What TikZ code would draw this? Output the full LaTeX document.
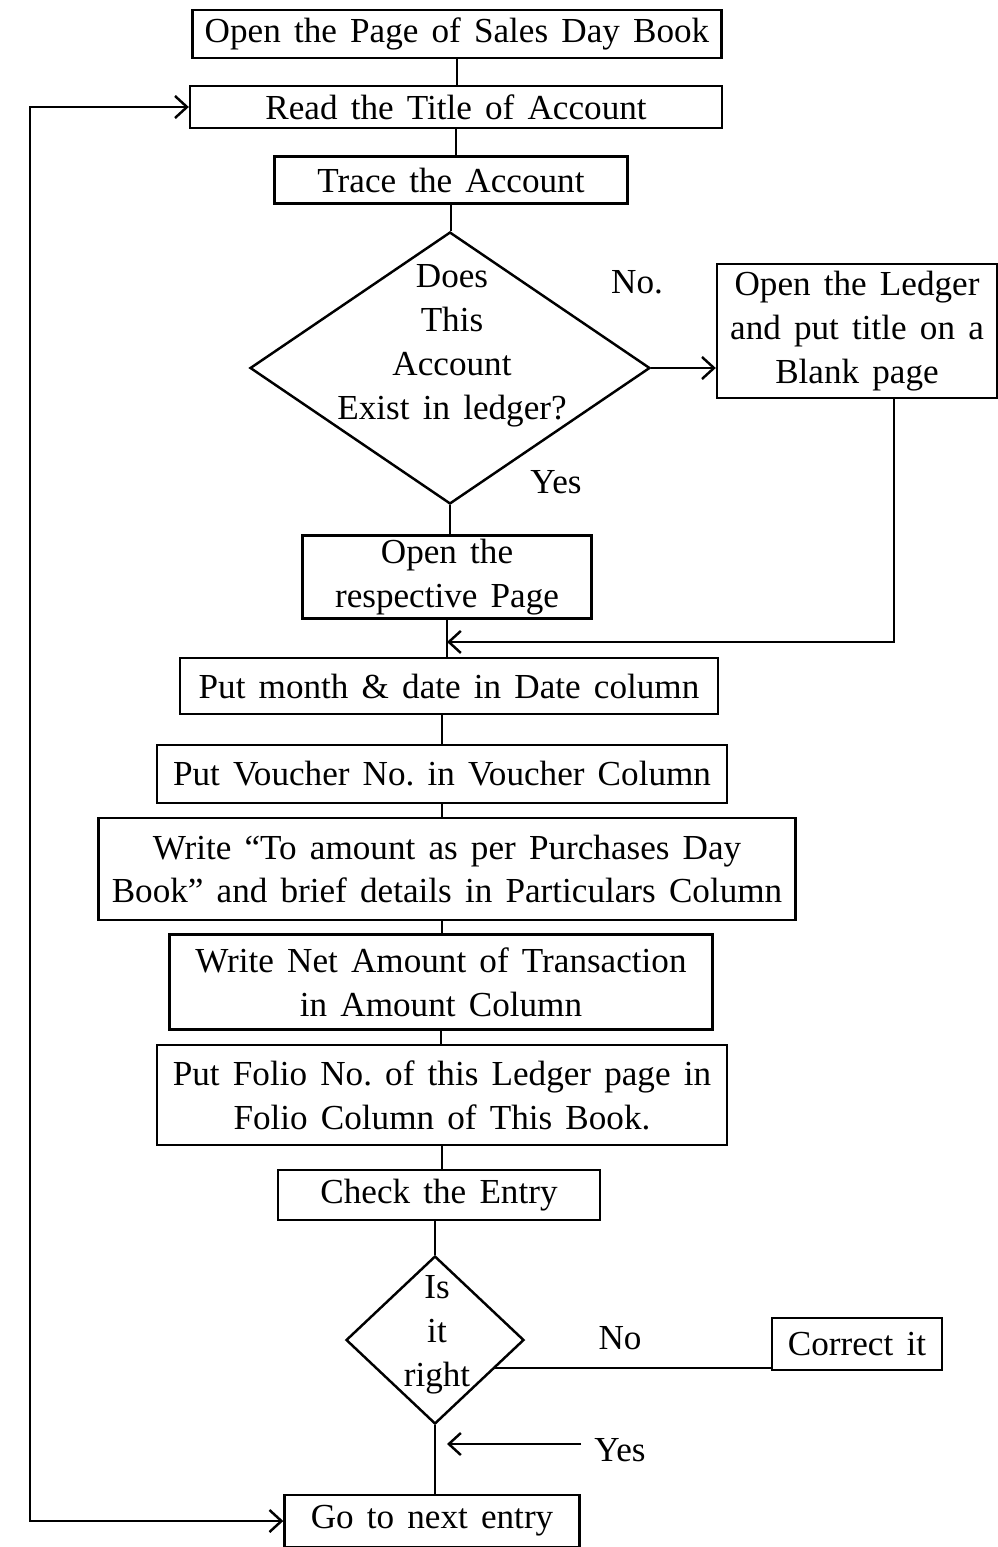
\documentclass[tikz,border=0pt]{standalone}
\usepackage{fontspec}
\setmainfont{Liberation Serif}[WordSpace=1.5]
\usetikzlibrary{arrows.meta,shapes.geometric,calc}

\begin{document}
\begin{tikzpicture}[
  x=0.02cm, y=0.02cm,
  font=\fontsize{20}{25}\selectfont,
  >={Straight Barb[length=2.4mm,width=4.4mm]},
  stepbox/.style={
    draw,
    line width=1.4pt,
    inner sep=0pt,
    align=center
  },
  decision/.style={
    draw,
    diamond,
    line width=1.4pt,
    inner sep=0pt
  },
  flowline/.style={
    line width=1.4pt
  },
  flowarrow/.style={
    ->,
    line width=1.4pt
  }
]
  \path[use as bounding box] (0,0) rectangle (997,-1547);

  % ----------------------------------------------------
  % UPPER PART: FIND THE ACCOUNT
  % ----------------------------------------------------
  \node[stepbox, minimum width=10.58cm, minimum height=0.96cm] (open) at (457,-34) {Open the Page of Sales Day Book};
  \node[stepbox, minimum width=10.64cm, minimum height=0.84cm] (title) at (456,-107) {Read the Title of Account};
  \node[stepbox, minimum width=7.06cm, minimum height=0.94cm] (trace) at (451,-180) {Trace the Account};

  % Decision: does the account exist?
  \node[decision, minimum width=8cm, minimum height=5.44cm] (exist) at (450,-368) {};
  \node[align=center] (existtext) at (452,-346) {Does\\This\\Account\\Exist in ledger?};
  \node (nolbl) at (637,-282) {No.};
  \node (yeslbl) at (556,-482) {Yes};

  \node[stepbox, minimum width=5.6cm, minimum height=2.68cm] (ledger) at (857,-331) {Open the Ledger\\and put title on a\\Blank page};
  \node[stepbox, minimum width=5.78cm, minimum height=1.66cm] (respective) at (447,-577) {Open the\\respective Page};

  % ----------------------------------------------------
  % POSTING STEPS
  % ----------------------------------------------------
  \node[stepbox, minimum width=10.76cm, minimum height=1.12cm] (date) at (449,-686) {Put month \& date in Date column};
  \node[stepbox, minimum width=11.4cm, minimum height=1.16cm] (voucher) at (442,-774) {Put Voucher No.\ in Voucher Column};
  \node[stepbox, minimum width=13.94cm, minimum height=2.04cm] (partic) at (447,-869) {Write “To amount as per Purchases Day\\Book” and brief details in Particulars Column};
  \node[stepbox, minimum width=10.86cm, minimum height=1.9cm] (netamt) at (441,-982) {Write Net Amount of Transaction\\in Amount Column};
  \node[stepbox, minimum width=11.4cm, minimum height=2.0cm] (folio) at (442,-1095) {Put Folio No.\ of this Ledger page in\\Folio Column of This Book.};
  \node[stepbox, minimum width=6.44cm, minimum height=1.0cm] (check) at (439,-1195) {Check the Entry};

  % Decision: is it right?
  \node[decision, minimum width=3.56cm, minimum height=3.36cm] (right) at (435,-1340) {};
  \node[align=center] (righttext) at (437,-1335) {Is\\it\\right};
  \node (no2lbl) at (620,-1338) {No};
  \node (yes2lbl) at (620,-1450) {Yes};
  \node[stepbox, minimum width=3.4cm, minimum height=1.04cm] (correct) at (857,-1344) {Correct it};
  \node[stepbox, minimum width=5.9cm, minimum height=1.04cm] (nextentry) at (432,-1521) {Go to next entry};

  \coordinate (loopx) at (30,0);
  \coordinate (yestip) at (447,-1444);
  \coordinate (merge) at ($(respective.south)!0.6!(respective.south |- date.north)$);

  % ----------------------------------------------------
  % CONNECTORS
  % ----------------------------------------------------
  \draw[flowline] (open.south) -- (open.south |- title.north);
  \draw[flowline] (title.south) -- (title.south |- trace.north);
  \draw[flowline] (trace.south) -- (trace.south |- exist.north);
  \draw[flowarrow] (exist.east) -- (exist.east -| ledger.west);
  \draw[flowline] (exist.south) -- (exist.south |- respective.north);
  \draw[flowline] (respective.south) -- (respective.south |- date.north);
  \draw[flowarrow] ($(ledger.south)+(37,0)$) |- (merge);
  \draw[flowline] (voucher.north |- date.south) -- (voucher.north);
  \draw[flowline] (voucher.south) -- (voucher.south |- partic.north);
  \draw[flowline] (voucher.south |- partic.south) -- (voucher.south |- netamt.north);
  \draw[flowline] (netamt.south) -- (netamt.south |- folio.north);
  \draw[flowline] (folio.south) -- (folio.south |- check.north);
  \draw[flowline] (right.north |- check.south) -- (right.north);
  \draw[flowline] (right.-25) -- (right.-25 -| correct.west);
  \draw[flowline] (right.south) -- (right.south |- nextentry.north);
  \draw[flowarrow, shorten <=4pt] (yes2lbl.west |- yestip) -- (yestip);

  % Loop back to the next title
  \draw[flowline, <->] (title.west) -- (title.west -| loopx) -- (nextentry.west -| loopx) -- (nextentry.west);

\end{tikzpicture}
\end{document}
